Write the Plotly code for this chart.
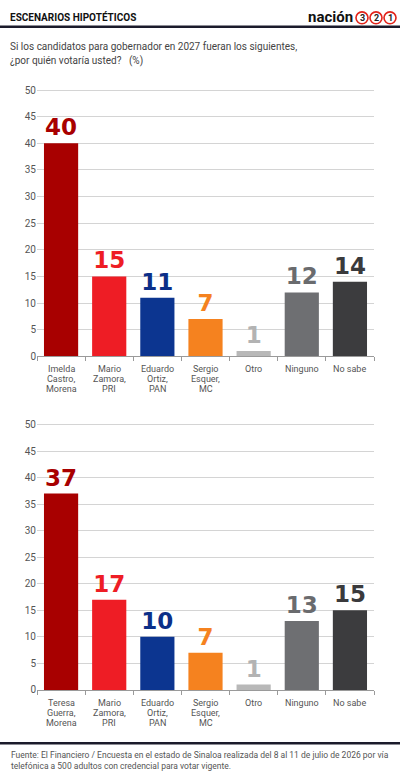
import plotly.graph_objects as go

# ---------------- data ----------------
categories1 = ["Imelda<br>Castro,<br>Morena", "Mario<br>Zamora,<br>PRI", "Eduardo<br>Ortiz,<br>PAN",
               "Sergio<br>Esquer,<br>MC", "Otro", "Ninguno", "No sabe"]
values1 = [40, 15, 11, 7, 1, 12, 14]

categories2 = ["Teresa<br>Guerra,<br>Morena", "Mario<br>Zamora,<br>PRI", "Eduardo<br>Ortiz,<br>PAN",
               "Sergio<br>Esquer,<br>MC", "Otro", "Ninguno", "No sabe"]
values2 = [37, 17, 10, 7, 1, 13, 15]

bar_colors = ["#a80000", "#ee1d25", "#0c3590", "#f5821f", "#b8b8b8", "#6e6f72", "#3c3c3e"]
label_colors = ["#a80000", "#ee1d25", "#0c2f88", "#f5821f", "#b3b3b3", "#6a6b6e", "#3a3a3c"]

y_ticks = [0, 5, 10, 15, 20, 25, 30, 35, 40, 45, 50]

title_text = "ESCENARIOS HIPOTÉTICOS"
subtitle_lines = ["Si los candidatos para gobernador en 2027 fueran los siguientes,",
                  "¿por quién votaría usted?\u00a0\u00a0\u00a0(%)"]
footer_lines = ["Fuente: El Financiero / Encuesta en el estado de Sinaloa realizada del 8 al 11 de julio de 2026 por vía",
                "telefónica a 500 adultos con credencial para votar vigente."]

W, H = 400, 781
YMAX = 50.4
PX_PER_UNIT = (357 - 88) / 50.0


def py(p):
    return 1 - p / H


fig = go.Figure()

for vals, cats, xa, ya in [(values1, categories1, "x", "y"), (values2, categories2, "x2", "y2")]:
    fig.add_trace(go.Bar(
        x=cats, y=vals, xaxis=xa, yaxis=ya,
        marker=dict(color=bar_colors, line=dict(width=0)),
        text=[str(v) for v in vals], textposition="outside",
        textfont=dict(family="DejaVu Sans", size=23, color=label_colors, weight="bold"),
        cliponaxis=False, constraintext="none", showlegend=False, hoverinfo="skip",
    ))
    # multi-line category labels with tight line spacing
    for c in cats:
        for i, line in enumerate(c.split("<br>")):
            fig.add_annotation(x=c, y=0, xref=xa, yref=ya, text=line, showarrow=False,
                               yanchor="middle", xanchor="center", yshift=-13 - 10 * i,
                               font=dict(family="Roboto", size=9, color="#555555"))

xdom = [37 / W, 374 / W]
common_x = dict(domain=xdom, showline=True, linecolor="#9a9a9a", linewidth=1,
                ticks="outside", tickson="boundaries", ticklen=4, tickcolor="#9a9a9a",
                showticklabels=False, showgrid=False, fixedrange=True)
common_y = dict(range=[0, YMAX], tickvals=y_ticks, showgrid=True, gridcolor="#d4d4d4", gridwidth=1,
                zeroline=False, showline=False, ticks="",
                tickfont=dict(family="Roboto", size=10, color="#555555"), fixedrange=True)

top1 = 357 - YMAX * PX_PER_UNIT
top2 = 694 - YMAX * (694 - 426) / 50.0

fig.update_layout(
    width=W, height=H, margin=dict(l=0, r=0, t=0, b=0),
    paper_bgcolor="white", plot_bgcolor="white",
    bargap=0.29,
    xaxis=dict(**common_x, anchor="y"),
    yaxis=dict(**common_y, domain=[py(357), py(top1)], anchor="x"),
    xaxis2=dict(**common_x, anchor="y2"),
    yaxis2=dict(**common_y, domain=[py(694), py(top2)], anchor="x2"),
)

# header
fig.add_annotation(x=8 / W, y=py(14.5), xref="paper", yref="paper", text="<b>" + title_text + "</b>",
                   showarrow=False, xanchor="left", yanchor="middle",
                   font=dict(family="Roboto", size=10, color="#111111"))
fig.add_annotation(x=355 / W, y=py(14), xref="paper", yref="paper", text="<b>nación</b>",
                   showarrow=False, xanchor="right", yanchor="middle",
                   font=dict(family="Roboto", size=15, color="#111111"))
for cx, d in [(362, "3"), (376, "2"), (390, "1")]:
    fig.add_shape(type="circle", xref="paper", yref="paper",
                  x0=(cx - 6) / W, x1=(cx + 6) / W, y0=py(21), y1=py(9),
                  line=dict(color="#e2231a", width=1.6), fillcolor="white")
    fig.add_annotation(x=cx / W, y=py(15), xref="paper", yref="paper", text="<b>" + d + "</b>",
                       showarrow=False, xanchor="center", yanchor="middle",
                       font=dict(family="Roboto", size=9, color="#222222"))

fig.add_shape(type="line", xref="paper", yref="paper", x0=0, x1=1, y0=py(24), y1=py(24),
              line=dict(color="#1b1b2b", width=2.5))

for i, line in enumerate(subtitle_lines):
    fig.add_annotation(x=8 / W, y=py(44 + 15 * i), xref="paper", yref="paper", text=line,
                       showarrow=False, xanchor="left", yanchor="middle",
                       font=dict(family="Roboto", size=10, color="#444444"))

# footer
fig.add_shape(type="line", xref="paper", yref="paper", x0=0, x1=1, y0=py(748), y1=py(748),
              line=dict(color="#1b1b2b", width=2.5))
for i, line in enumerate(footer_lines):
    fig.add_annotation(x=9 / W, y=py(759.5 + 11 * i), xref="paper", yref="paper", text=line,
                       showarrow=False, xanchor="left", yanchor="middle",
                       font=dict(family="Roboto", size=8.5, color="#555555"))

fig.write_html("out.html", config={"displayModeBar": False})
